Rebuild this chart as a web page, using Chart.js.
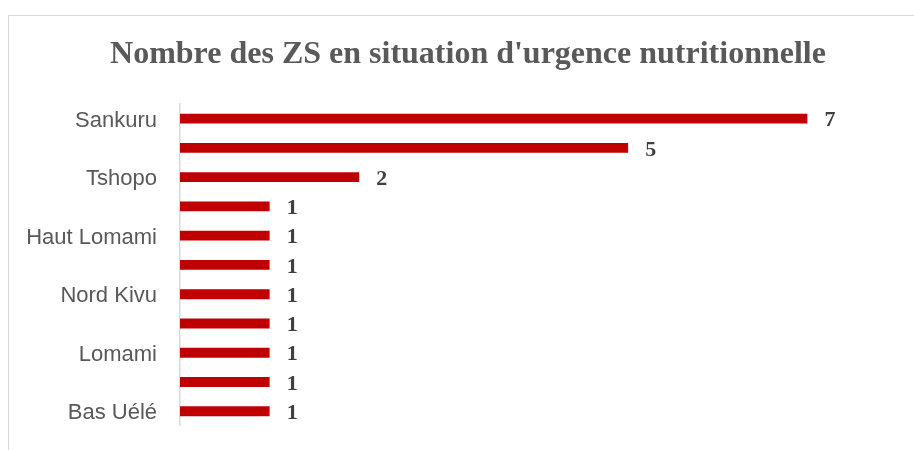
<!DOCTYPE html>
<html>
<head>
<meta charset="utf-8">
<script src="https://cdn.jsdelivr.net/npm/chart.js@4.4.0/dist/chart.umd.min.js"></script>
<style>
    html, body { margin: 0; padding: 0; background: #fff; overflow: hidden; }
    body { width: 914px; height: 450px; position: relative; }
    .frame {
        position: absolute;
        left: 8px;
        top: 15px;
        width: 920px;
        height: 460px;
        border: 1px solid #d9d9d9;
        box-sizing: border-box;
    }
    #chart { display: block; }
</style>
</head>
<body>
<div class="frame">
    <canvas id="chart" width="918" height="438"></canvas>
</div>
<script>
// Provinces (only every other name is printed on the axis, as in the original)
const provinces = ['Sankuru', 'Kasaï Central', 'Tshopo', 'Ituri', 'Haut Lomami', 'Sud Kivu',
    'Nord Kivu', 'Kwango', 'Lomami', 'Tanganyika', 'Bas Uélé'];
const zsCount = [7, 5, 2, 1, 1, 1, 1, 1, 1, 1, 1];
const xMin = 0;
const xMax = 8;
const chartTitle = "Nombre des ZS en situation d'urgence nutritionnelle";

// Title drawn by hand: the original centres it on the whole frame, not on the plot
const titlePlugin = {
    id: 'frameTitle',
    afterDraw(chart) {
        const ctx = chart.ctx;
        ctx.save();
        ctx.font = 'bold 32px "Liberation Serif", serif';
        ctx.fillStyle = '#595959';
        ctx.textAlign = 'center';
        ctx.textBaseline = 'alphabetic';
        ctx.fillText(chartTitle, 459, 47);
        ctx.restore();
    }
};

// Value labels at the end of each bar
const valueLabels = {
    id: 'valueLabels',
    afterDatasetsDraw(chart) {
        const ctx = chart.ctx;
        const meta = chart.getDatasetMeta(0);
        ctx.save();
        ctx.font = 'bold 22px "Liberation Serif", serif';
        ctx.fillStyle = '#404040';
        ctx.textAlign = 'left';
        ctx.textBaseline = 'middle';
        meta.data.forEach((bar, i) => {
            ctx.fillText(zsCount[i], bar.x + 17, bar.y + 2);
        });
        ctx.restore();
    }
};

new Chart(document.getElementById('chart'), {
    type: 'bar',
    data: {
        labels: provinces,
        datasets: [{
            data: zsCount,
            backgroundColor: '#c00000',
            borderWidth: 0,
            categoryPercentage: 1,
            barPercentage: 0.34
        }]
    },
    options: {
        indexAxis: 'y',
        responsive: false,
        animation: false,
        layout: {
            padding: { top: 88, right: 30, bottom: 0, left: 0 }
        },
        plugins: {
            legend: { display: false },
            tooltip: { enabled: false },
            title: { display: false }
        },
        scales: {
            x: {
                display: false,
                min: xMin,
                max: xMax
            },
            y: {
                grid: { display: false },
                border: { display: true, color: '#d9d9d9', width: 1.5 },
                afterFit(scale) { scale.width = 171; },
                ticks: {
                    autoSkip: false,
                    padding: 15,
                    labelOffset: 2,
                    color: '#595959',
                    font: { family: '"Liberation Sans", sans-serif', size: 22 },
                    callback: function(value, index) {
                        return index % 2 === 0 ? this.getLabelForValue(value) : '';
                    }
                }
            }
        }
    },
    plugins: [valueLabels, titlePlugin]
});
</script>
</body>
</html>
